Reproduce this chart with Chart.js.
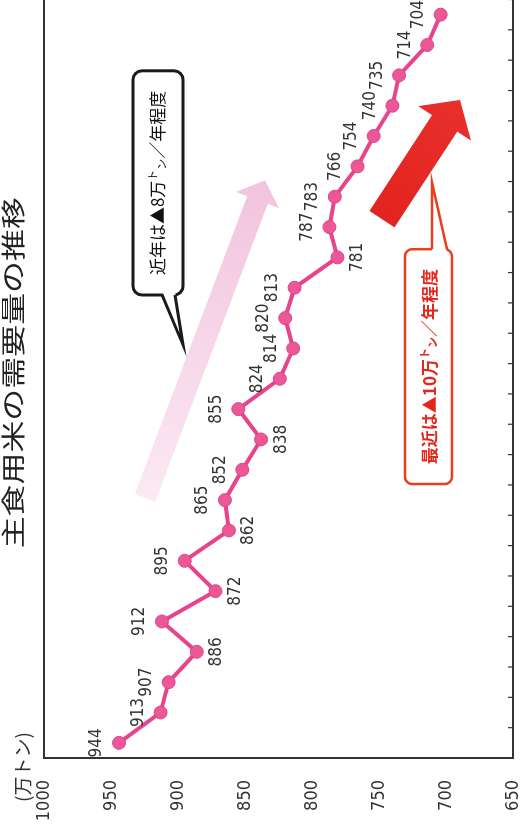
<!DOCTYPE html>
<html>
<head>
<meta charset="utf-8">
<script src="https://cdn.jsdelivr.net/npm/chart.js@4"></script>
<style>
  html, body { margin: 0; padding: 0; width: 526px; height: 832px; overflow: hidden; background: #fff; }
  /* the chart is drawn landscape and turned a quarter turn, as in the source slide */
  #wrap { position: absolute; left: 0; top: 0; width: 840px; height: 526px;
          transform-origin: 0 0; transform: translate(0, 832px) rotate(-90deg); }
</style>
</head>
<body>
<div id="wrap"><canvas id="riceChart" width="840" height="526"></canvas></div>
<script>
// fiscal years H8 .. R2
const years = ['H8','H9','H10','H11','H12','H13','H14','H15','H16','H17','H18','H19','H20',
               'H21','H22','H23','H24','H25','H26','H27','H28','H29','H30','R1','R2'];
// 主食用米の需要量 (万トン)
const demand = [944, 913, 907, 886, 912, 872, 895, 862, 865, 852, 838, 855, 824,
                814, 820, 813, 781, 787, 783, 766, 754, 740, 735, 714, 704];
// which side of the point each value label sits on
const labelSide = ['up','up','up','down','up','down','up','down','up','up','down','up','up',
                   'up','up','up','down','up','up','up','up','up','up','up','up'];
const yMin = 650, yMax = 1000, yStep = 50;

const NUM_FONT = "'Liberation Sans Narrow', 'DejaVu Sans Condensed', sans-serif";
const JP_FONT = "'Noto Sans CJK JP', 'Noto Sans', sans-serif";

function arrow(ctx, a, b, shaft, headW, headL, c1, c2) {
  const ang = Math.atan2(b.y - a.y, b.x - a.x);
  const len = Math.hypot(b.x - a.x, b.y - a.y);
  ctx.save();
  ctx.translate(a.x, a.y);
  ctx.rotate(ang);
  const g = ctx.createLinearGradient(0, 0, len, 0);
  g.addColorStop(0, c1);
  g.addColorStop(1, c2);
  ctx.beginPath();
  ctx.moveTo(0, -shaft / 2);
  ctx.lineTo(len - headL, -shaft / 2);
  ctx.lineTo(len - headL, -headW / 2);
  ctx.lineTo(len, 0);
  ctx.lineTo(len - headL, headW / 2);
  ctx.lineTo(len - headL, shaft / 2);
  ctx.lineTo(0, shaft / 2);
  ctx.closePath();
  ctx.fillStyle = g;
  ctx.fill();
  ctx.restore();
}

// text with the small raised "ト" and lowered "ン"
function noteText(ctx, cx, cy, parts, size, color, weight) {
  ctx.save();
  ctx.fillStyle = color;
  ctx.textBaseline = 'middle';
  ctx.textAlign = 'left';
  let total = 0;
  parts.forEach(p => {
    ctx.font = weight + ' ' + Math.round(size * p[1]) + 'px ' + JP_FONT;
    total += ctx.measureText(p[0]).width;
  });
  let x = cx - total / 2;
  parts.forEach(p => {
    ctx.font = weight + ' ' + Math.round(size * p[1]) + 'px ' + JP_FONT;
    ctx.fillText(p[0], x, cy + p[2] * size);
    x += ctx.measureText(p[0]).width;
  });
  ctx.restore();
}

function callout(ctx, box, tail, stroke, lw, radius) {
  ctx.save();
  ctx.lineWidth = lw;
  ctx.strokeStyle = stroke;
  ctx.fillStyle = '#fff';
  ctx.beginPath();
  ctx.roundRect(box.x, box.y, box.w, box.h, radius);
  ctx.fill();
  ctx.stroke();
  // tail: cover the border between the base points, then stroke its two sides
  const [b1, b2, tip] = tail;
  const inX = tail.inset.x, inY = tail.inset.y;
  ctx.beginPath();
  ctx.moveTo(b1.x + inX, b1.y + inY);
  ctx.lineTo(tip.x, tip.y);
  ctx.lineTo(b2.x + inX, b2.y + inY);
  ctx.closePath();
  ctx.fill();
  ctx.beginPath();
  ctx.moveTo(b1.x, b1.y);
  ctx.lineTo(tip.x, tip.y);
  ctx.lineTo(b2.x, b2.y);
  ctx.lineJoin = 'miter';
  ctx.stroke();
  ctx.restore();
}

const decorations = {
  id: 'decorations',
  beforeDatasetsDraw(chart) {
    const { ctx, scales: { x, y } } = chart;
    const P = (i, v) => ({ x: x.getPixelForValue(i), y: y.getPixelForValue(v) });

    // light pink arrow (long-term trend)
    arrow(ctx, P(8.07, 924.6), P(18.54, 835.1), 22, 46, 21, '#fbe9f3', '#f2c3de');
    // red arrow (recent trend)
    arrow(ctx, P(17.26, 747.8), P(21.19, 689.6), 30, 63, 28, '#e3231f', '#e8302a');

    // black callout
    let a = P(14.76, 933.6), b = P(22.15, 896.3);
    let tail = [P(14.76, 911.9), P(14.76, 902.2), P(13.12, 896.3)];
    tail.inset = { x: 4, y: 0 };
    callout(ctx, { x: a.x, y: a.y, w: b.x - a.x, h: b.y - a.y }, tail, '#1a1a1a', 3, 9);
    noteText(ctx, (a.x + b.x) / 2, (a.y + b.y) / 2,
      [['近年は▲8万', 1, 0], ['ト', 0.62, -0.28], ['ン', 0.62, 0.22], ['／年程度', 1, 0]],
      17, '#111', 'normal');

    // red callout
    a = P(8.53, 730.6); b = P(16.27, 695.5);
    tail = [P(16.27, 710.4), P(16.27, 699.3), P(18.47, 710.4)];
    tail.inset = { x: -4, y: 0 };
    callout(ctx, { x: a.x, y: a.y, w: b.x - a.x, h: b.y - a.y }, tail, '#e8401c', 2.5, 7);
    noteText(ctx, (a.x + b.x) / 2, (a.y + b.y) / 2 + 1,
      [['最近は▲10万', 1, 0], ['ト', 0.62, -0.28], ['ン', 0.62, 0.22], ['／年程度', 1, 0]],
      17, '#e5261d', 'bold');
  },
  afterDatasetsDraw(chart) {
    const { ctx, chartArea: ca, scales: { x } } = chart;
    const meta = chart.getDatasetMeta(0);

    // value labels
    ctx.save();
    ctx.font = '17px ' + NUM_FONT;
    ctx.fillStyle = '#333';
    ctx.textAlign = 'center';
    ctx.textBaseline = 'middle';
    meta.data.forEach((pt, i) => {
      const dy = labelSide[i] === 'up' ? -22 : 20;
      ctx.fillText(String(demand[i]), pt.x, pt.y + dy);
    });
    ctx.restore();

    // frame: top, left and bottom lines
    ctx.save();
    ctx.strokeStyle = '#333';
    ctx.lineWidth = 2;
    ctx.beginPath();
    ctx.moveTo(chart.width, ca.top);
    ctx.lineTo(ca.left, ca.top);
    ctx.lineTo(ca.left, ca.bottom);
    ctx.lineTo(chart.width, ca.bottom);
    ctx.stroke();
    // small inward ticks between years
    ctx.lineWidth = 1.2;
    const step = (ca.right - ca.left) / years.length;
    ctx.beginPath();
    for (let i = 1; i <= years.length; i++) {
      const tx = x.getPixelForValue(i) - step / 2;
      ctx.moveTo(tx, ca.bottom);
      ctx.lineTo(tx, ca.bottom - 5);
    }
    ctx.stroke();
    ctx.restore();

    // unit label
    ctx.save();
    ctx.font = '19px ' + JP_FONT;
    ctx.fillStyle = '#333';
    ctx.textAlign = 'center';
    ctx.textBaseline = 'middle';
    ctx.fillText('(万トン)', ca.left - 9, ca.top - 21);
    ctx.restore();

    // title, horizontally stretched like the original slide
    ctx.save();
    ctx.translate((ca.left + ca.right) / 2 + 6, 13);
    ctx.scale(1.33, 1);
    ctx.font = '24px ' + JP_FONT;
    ctx.fillStyle = '#222';
    ctx.textAlign = 'center';
    ctx.textBaseline = 'middle';
    ctx.fillText('主食用米の需要量の推移', 0, 0);
    ctx.restore();
  }
};

const ctx = document.getElementById('riceChart').getContext('2d');

const chart = new Chart(ctx, {
  type: 'line',
  data: {
    labels: years,
    datasets: [{
      label: '主食用米の需要量',
      data: demand,
      borderColor: '#e8448b',
      borderWidth: 4,
      pointRadius: 6.5,
      pointBackgroundColor: '#ec5797',
      pointBorderColor: '#de4588',
      pointBorderWidth: 1,
      tension: 0,
      fill: false,
    }]
  },
  options: {
    responsive: false,
    animation: false,
    devicePixelRatio: 1,
    layout: { padding: { top: 44, bottom: 13, left: 0, right: 4 } },
    plugins: { legend: { display: false }, tooltip: { enabled: false } },
    scales: {
      x: {
        offset: true,
        ticks: { display: false },
        grid: { display: false, drawTicks: false },
        border: { display: false },
        afterFit(s) { s.height = 0; }
      },
      y: {
        min: yMin,
        max: yMax,
        ticks: {
          stepSize: yStep, padding: 22, color: '#333',
          font: { family: NUM_FONT, size: 18 },
          callback: v => String(v)
        },
        grid: { display: false, drawTicks: false },
        border: { display: false },
        // keep the wide label gap from eating into the plot height
        afterFit(s) { s.width = 74; s.paddingTop = 10; s.paddingBottom = 10; }
      }
    }
  },
  plugins: [decorations]
});
</script>
</body>
</html>
